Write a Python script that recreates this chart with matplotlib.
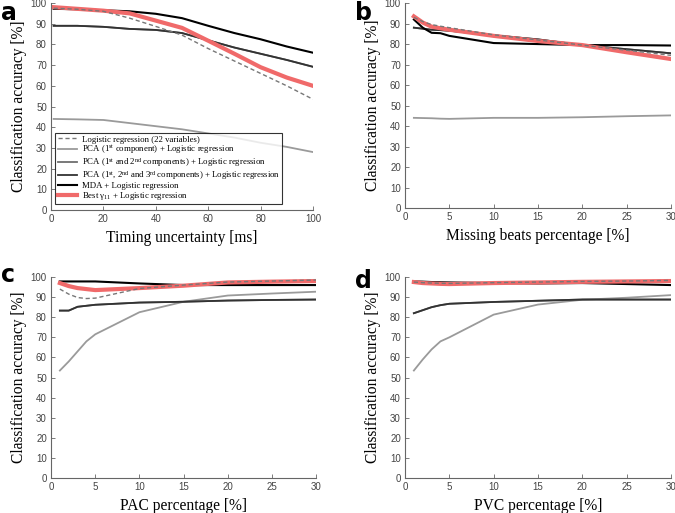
import numpy as np
import matplotlib
matplotlib.use("Agg")
import matplotlib.pyplot as plt

plt.rcParams['mathtext.fontset'] = 'custom'
plt.rcParams['mathtext.rm'] = 'Liberation Serif'
plt.rcParams['mathtext.it'] = 'Liberation Serif:italic'

# Panel a: timing uncertainty
a_x = [1, 10, 20, 30, 40, 50, 60, 70, 80, 90, 100]
a_lr = [97.5, 97.0, 96.0, 92.7, 88.7, 84.5, 78.0, 72.0, 66.0, 60.0, 53.5]
a_pca1 = [44.0, 43.8, 43.5, 42.0, 40.5, 39.0, 37.0, 35.0, 32.5, 30.5, 28.0]
a_pca2 = [89.0, 89.0, 88.5, 87.5, 87.0, 85.5, 82.0, 78.5, 75.5, 72.5, 69.2]
a_pca3 = [89.0, 89.0, 88.5, 87.5, 87.0, 85.5, 82.0, 78.5, 75.5, 72.5, 69.2]
a_mda = [97.2, 97.0, 96.5, 96.0, 94.8, 92.7, 89.0, 85.5, 82.5, 79.0, 76.0]
a_best = [98.0, 97.2, 96.3, 95.0, 91.5, 88.0, 81.8, 75.5, 69.0, 64.0, 60.0]

# Panel b: missing beats
b_x = [1, 2, 3, 4, 5, 10, 15, 20, 25, 30]
b_lr = [93.0, 91.0, 89.5, 88.7, 88.0, 84.5, 82.0, 79.5, 77.0, 74.5]
b_pca1 = [44.0, 43.9, 43.8, 43.6, 43.5, 44.0, 44.0, 44.3, 44.8, 45.2]
b_pca2 = [88.0, 87.5, 87.0, 86.8, 86.5, 84.3, 82.3, 79.5, 77.5, 75.5]
b_pca3 = [88.0, 87.5, 87.0, 86.8, 86.5, 84.3, 82.3, 79.5, 77.5, 75.5]
b_mda = [92.0, 88.0, 85.5, 85.3, 84.0, 80.5, 80.0, 79.5, 79.5, 79.3]
b_best = [93.5, 90.5, 88.5, 87.7, 87.0, 84.0, 81.5, 79.5, 76.0, 72.7]

# Panel c: PAC percentage
c_x = [1, 2, 3, 4, 5, 10, 15, 20, 25, 30]
c_lr = [94.0, 91.5, 89.8, 89.3, 89.5, 94.3, 96.0, 97.5, 98.0, 98.5]
c_pca1 = [53.5, 58.0, 63.0, 68.0, 71.5, 82.5, 87.7, 90.8, 91.8, 92.7]
c_pca2 = [83.3, 83.3, 85.2, 85.7, 86.2, 87.3, 87.7, 88.3, 88.6, 88.8]
c_pca3 = [83.3, 83.3, 85.2, 85.7, 86.2, 87.3, 87.7, 88.3, 88.6, 88.8]
c_mda = [97.8, 97.8, 97.8, 97.8, 97.8, 96.8, 96.0, 96.0, 96.0, 96.0]
c_best = [97.0, 95.5, 94.5, 94.0, 93.5, 94.5, 95.7, 97.3, 97.7, 98.0]

# Panel d: PVC percentage
d_x = [1, 2, 3, 4, 5, 10, 15, 20, 25, 30]
d_lr = [97.5, 97.2, 97.0, 96.9, 96.8, 97.2, 97.5, 97.8, 98.0, 98.3]
d_pca1 = [53.5, 59.0, 64.0, 68.0, 70.0, 81.3, 86.3, 88.7, 89.7, 91.0]
d_pca2 = [82.0, 83.5, 85.0, 86.0, 86.7, 87.6, 88.2, 88.8, 88.8, 88.8]
d_pca3 = [82.0, 83.5, 85.0, 86.0, 86.7, 87.6, 88.2, 88.8, 88.8, 88.8]
d_mda = [97.8, 97.7, 97.5, 97.4, 97.3, 97.0, 96.8, 97.0, 96.5, 96.0]
d_best = [97.5, 97.0, 96.8, 96.6, 96.5, 97.0, 97.3, 97.6, 97.8, 98.0]

labels = [
    'Logistic regression (22 variables)',
    r'PCA (1$^{\mathrm{st}}$ component) + Logistic regression',
    r'PCA (1$^{\mathrm{st}}$ and 2$^{\mathrm{nd}}$ components) + Logistic regression',
    r'PCA (1$^{\mathrm{st}}$, 2$^{\mathrm{nd}}$ and 3$^{\mathrm{rd}}$ components) + Logistic regression',
    'MDA + Logistic regression',
    r'Best $\mathrm{\gamma}_{11}$ + Logistic regression',
]

SERIF = 'Liberation Serif'
SANS = 'Liberation Sans'


def draw_panel(ax, x, lr, pca1, pca2, pca3, mda, best, xmax, xticks, xlabel):
    ax.plot(x, pca1, color='#9a9a9a', lw=1.3, label=labels[1])
    ax.plot(x, pca2, color='#6e6e6e', lw=1.3, label=labels[2])
    ax.plot(x, pca3, color='#333333', lw=1.3, label=labels[3])
    ax.plot(x, mda, color='black', lw=1.5, label=labels[4])
    ax.plot(x, best, color='#f06a6a', lw=3.0, label=labels[5])
    ax.plot(x, lr, color='#777777', lw=1.0, ls=(0, (3, 2)), label=labels[0])
    ax.set_xlim(0, xmax)
    ax.set_ylim(0, 100)
    ax.set_xticks(xticks)
    ax.set_yticks(np.arange(0, 101, 10))
    for s in ['top', 'right']:
        ax.spines[s].set_visible(False)
    for s in ['left', 'bottom']:
        ax.spines[s].set_color('#666666')
        ax.spines[s].set_linewidth(0.8)
    ax.tick_params(direction='in', length=3, width=0.6, colors='#666666',
                   labelsize=7, labelcolor='#444444', pad=3)
    for t in ax.get_xticklabels() + ax.get_yticklabels():
        t.set_family(SANS)
    ax.set_xlabel(xlabel, family=SERIF, fontsize=11.2, labelpad=4)
    ax.set_ylabel('Classification accuracy [%]', family=SERIF, fontsize=11.2, labelpad=3)
    return ax


fig = plt.figure(figsize=(6.75, 5.13), dpi=100)
ax_a = fig.add_axes([0.0756, 0.5906, 0.388, 0.4035])
ax_b = fig.add_axes([0.600, 0.5945, 0.394, 0.3995])
ax_c = fig.add_axes([0.0756, 0.068, 0.393, 0.392])
ax_d = fig.add_axes([0.600, 0.068, 0.394, 0.392])

draw_panel(ax_a, a_x, a_lr, a_pca1, a_pca2, a_pca3, a_mda, a_best, 100,
           [0, 20, 40, 60, 80, 100], 'Timing uncertainty [ms]')
draw_panel(ax_b, b_x, b_lr, b_pca1, b_pca2, b_pca3, b_mda, b_best, 30,
           [0, 5, 10, 15, 20, 25, 30], 'Missing beats percentage [%]')
draw_panel(ax_c, c_x, c_lr, c_pca1, c_pca2, c_pca3, c_mda, c_best, 30,
           [0, 5, 10, 15, 20, 25, 30], 'PAC percentage [%]')
draw_panel(ax_d, d_x, d_lr, d_pca1, d_pca2, d_pca3, d_mda, d_best, 30,
           [0, 5, 10, 15, 20, 25, 30], 'PVC percentage [%]')

# Legend on panel a, in the original order
handles, labs = ax_a.get_legend_handles_labels()
order = [5, 0, 1, 2, 3, 4]
leg = ax_a.legend([handles[i] for i in order], [labs[i] for i in order],
                  loc='lower left', bbox_to_anchor=(0.01, 0.02),
                  prop={'family': SERIF, 'size': 6.3}, frameon=True,
                  fancybox=False, edgecolor='black', handlelength=2.2,
                  borderpad=0.25, labelspacing=0.0, handletextpad=0.6,
                  borderaxespad=0.2)
leg.get_frame().set_linewidth(0.8)

# Panel letters
fig.text(0.002, 0.998, 'a', fontsize=17, fontweight='bold', va='top', ha='left', family='DejaVu Sans')
fig.text(0.526, 0.998, 'b', fontsize=17, fontweight='bold', va='top', ha='left', family='DejaVu Sans')
fig.text(0.002, 0.488, 'c', fontsize=17, fontweight='bold', va='top', ha='left', family='DejaVu Sans')
fig.text(0.526, 0.475, 'd', fontsize=17, fontweight='bold', va='top', ha='left', family='DejaVu Sans')

fig.savefig('out.png', dpi=100)
